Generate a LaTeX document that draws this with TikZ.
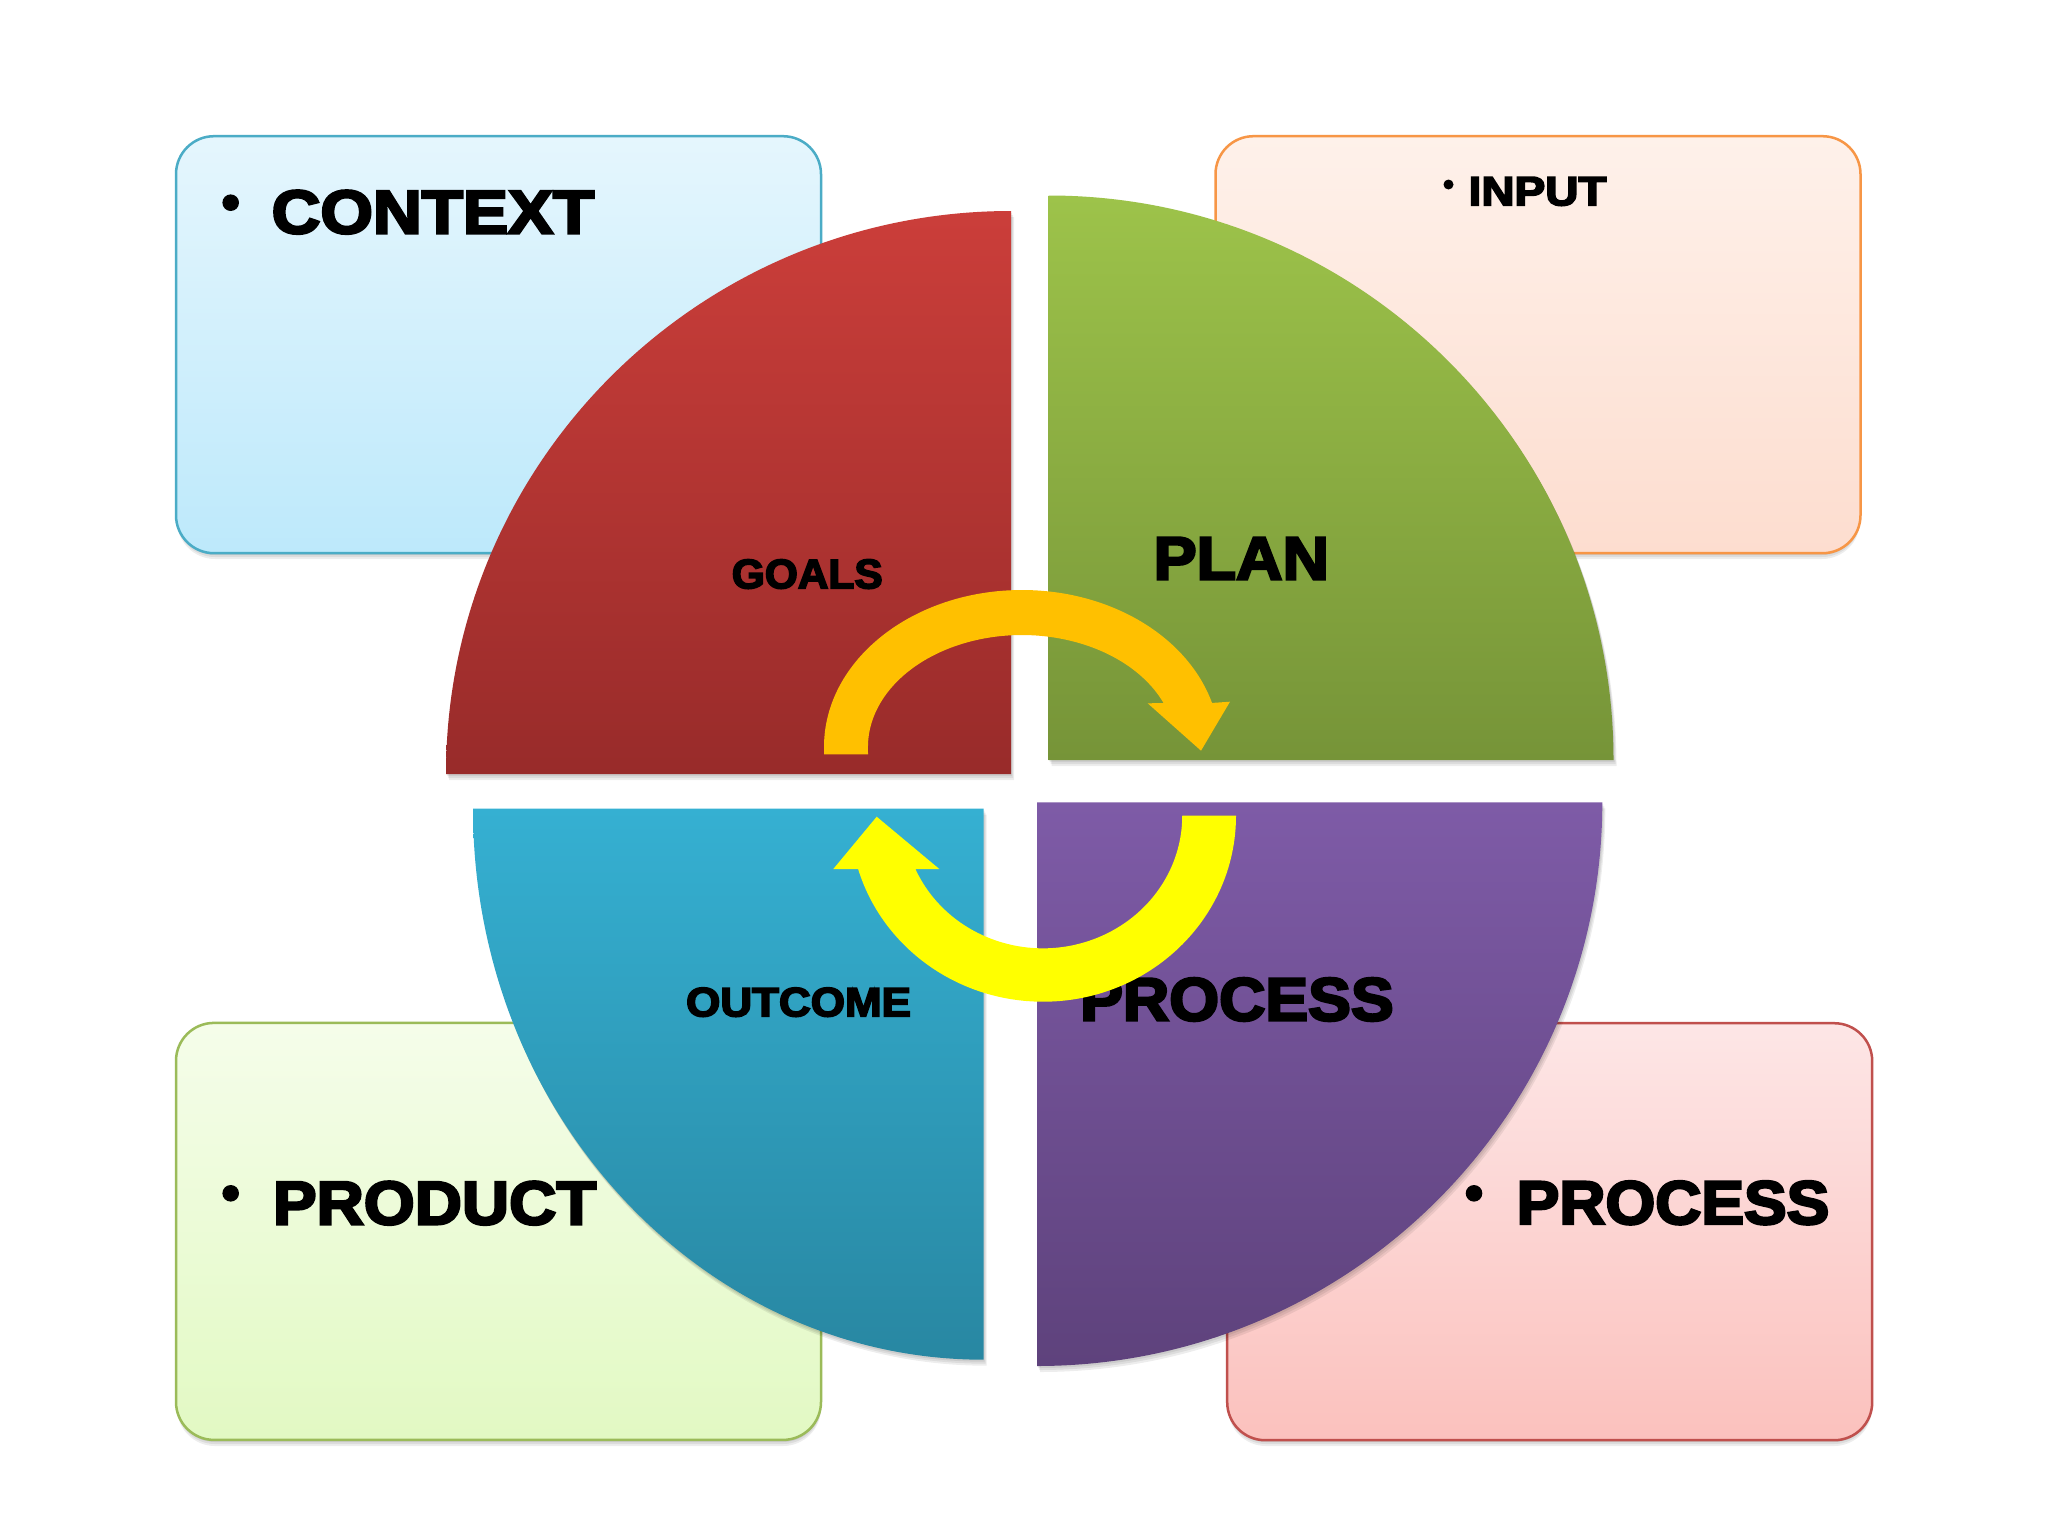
\documentclass[tikz,border=0pt]{standalone}
\usepackage{fontspec}
\usepackage{graphicx}
\newfontface\heavy{Liberation Sans Bold}[FakeBold=4]
\definecolor{ctxtop}{RGB}{229,246,253}
\definecolor{ctxbot}{RGB}{189,233,251}
\definecolor{ctxline}{RGB}{75,172,198}
\definecolor{inptop}{RGB}{254,241,234}
\definecolor{inpbot}{RGB}{253,221,207}
\definecolor{inpline}{RGB}{247,150,70}
\definecolor{prdtop}{RGB}{245,253,234}
\definecolor{prdbot}{RGB}{226,249,195}
\definecolor{prdline}{RGB}{155,187,89}
\definecolor{prctop}{RGB}{253,230,230}
\definecolor{prcbot}{RGB}{251,193,189}
\definecolor{prcline}{RGB}{192,80,77}
\definecolor{redtop}{RGB}{203,62,58}
\definecolor{redbot}{RGB}{152,43,42}
\definecolor{grntop}{RGB}{157,195,74}
\definecolor{grnbot}{RGB}{118,148,56}
\definecolor{blutop}{RGB}{53,176,210}
\definecolor{blubot}{RGB}{40,135,162}
\definecolor{purtop}{RGB}{126,91,167}
\definecolor{purbot}{RGB}{94,66,124}
\definecolor{arrorange}{RGB}{255,192,0}
\definecolor{arryellow}{RGB}{255,255,0}
\tikzset{
  card/.style={rectangle, rounded corners=38pt, line width=2.5pt, inner sep=0pt,
    minimum width=645pt, minimum height=417pt},
  bigtxt/.style={font=\heavy\fontsize{61.5}{62}\selectfont, inner sep=0pt, anchor=base west},
  midtxt/.style={font=\heavy\fontsize{41.3}{42}\selectfont, inner sep=0pt, anchor=base west},
  bul/.style={circle, fill=black, inner sep=0pt, minimum size=16.6pt},
  smallbul/.style={circle, fill=black, inner sep=0pt, minimum size=10pt},
  shadowfill/.style={fill=black, opacity=0.07},
}
\newcommand\redpath{(1011,774) -- (446,774) arc[start angle=180, end angle=270, x radius=565, y radius=563] -- cycle}
\newcommand\grnpath{(1048.5,760) -- (1048.5,195.5) arc[start angle=270, end angle=360, x radius=565, y radius=564.5] -- cycle}
\newcommand\purpath{(1037,802.3) -- (1602.3,802.3) arc[start angle=0, end angle=90, x radius=565.3, y radius=563.7] -- cycle}
\newcommand\blupath{(983.7,808.7) -- (983.7,1359.7) arc[start angle=90, end angle=180, x radius=510.7, y radius=551] -- cycle}
\begin{document}
\begin{tikzpicture}[x=1pt,y=-1pt]
\useasboundingbox (0,0) rectangle (2048,1536);
\fill[white] (0,0) rectangle (2048,1536);
% card shadows
\foreach \s in {2,4,6}{
  \fill[shadowfill, rounded corners=38pt] (177,138+\s) rectangle (821,553+\s);
  \fill[shadowfill, rounded corners=38pt] (1216,138+\s) rectangle (1860,553+\s);
  \fill[shadowfill, rounded corners=38pt] (177,1025+\s) rectangle (821,1440+\s);
  \fill[shadowfill, rounded corners=38pt] (1228,1025+\s) rectangle (1872,1440+\s);
}
% cards
\node[card, draw=ctxline, top color=ctxtop, bottom color=ctxbot] (ctxbox) at (498.5,344.7) {};
\node[card, draw=inpline, top color=inptop, bottom color=inpbot] (inpbox) at (1538,344.7) {};
\node[card, draw=prdline, top color=prdtop, bottom color=prdbot] (prdbox) at (498.5,1231.4) {};
\node[card, draw=prcline, top color=prctop, bottom color=prcbot] (prcbox) at (1549.7,1231.7) {};
% card texts
\node[bul] (b1) at (230.7,202.7) {};
\node[bigtxt] (ctxt) at (271.5,233.3) {\resizebox{322.6pt}{\height}{CONTEXT}};
\node[smallbul] (b2) at (1448.5,184.5) {};
\node[midtxt, font=\heavy\fontsize{41}{42}\selectfont] (inpt) at (1468.4,205.3) {\resizebox{137.9pt}{\height}{INPUT}};
\node[bul] (b3) at (230.7,1193.3) {};
\node[bigtxt] (prdt) at (272.8,1224.3) {\resizebox{323.3pt}{\height}{PRODUCT}};
\node[bul] (b4) at (1474,1193.3) {};
\node[bigtxt] (prct) at (1516.5,1224) {\resizebox{312.6pt}{\height}{PROCESS}};
% quadrant shadows
\foreach \s in {2,4,6}{
  \begin{scope}[shift={(0.5*\s,\s)}]
    \fill[shadowfill] \redpath;
    \fill[shadowfill] \grnpath;
    \fill[shadowfill] \purpath;
    \fill[shadowfill] \blupath;
  \end{scope}
}
% quadrants
\shade[top color=redtop, bottom color=redbot] \redpath;
\shade[top color=grntop, bottom color=grnbot] \grnpath;
\shade[top color=purtop, bottom color=purbot] \purpath;
\shade[top color=blutop, bottom color=blubot] \blupath;
% quadrant labels
\node[midtxt] (goals) at (731.6,588.3) {\resizebox{150.9pt}{\height}{GOALS}};
\node[bigtxt, font=\heavy\fontsize{61}{62}\selectfont] (plan) at (1153.5,579.5) {\resizebox{175.3pt}{\height}{PLAN}};
\node[midtxt, font=\heavy\fontsize{41}{42}\selectfont] (outc) at (685.9,1016.3) {\resizebox{224.9pt}{\height}{OUTCOME}};
\node[bigtxt, font=\heavy\fontsize{61}{62}\selectfont] (proc) at (1080,1020.5) {\resizebox{313.5pt}{\height}{PROCESS}};
% arrows
\fill[arrorange] (824,754.3) -- (824,747)
  arc[start angle=180, end angle=343.7, x radius=198, y radius=157]
  -- (1230,701.7) -- (1201,750.7) -- (1147.7,703.3) -- (1163.6,703.1)
  arc[start angle=336.9, end angle=180, x radius=154, y radius=112]
  -- (868,754.3) -- cycle;
\fill[arryellow] (1236,815.7)
  arc[start angle=0, end angle=163.3, x radius=193, y radius=186]
  -- (833.3,869) -- (876.7,816.7) -- (939.3,869) -- (915.4,869)
  arc[start angle=156.3, end angle=0, x radius=139.3, y radius=132.6]
  -- cycle;
\end{tikzpicture}
\end{document}
